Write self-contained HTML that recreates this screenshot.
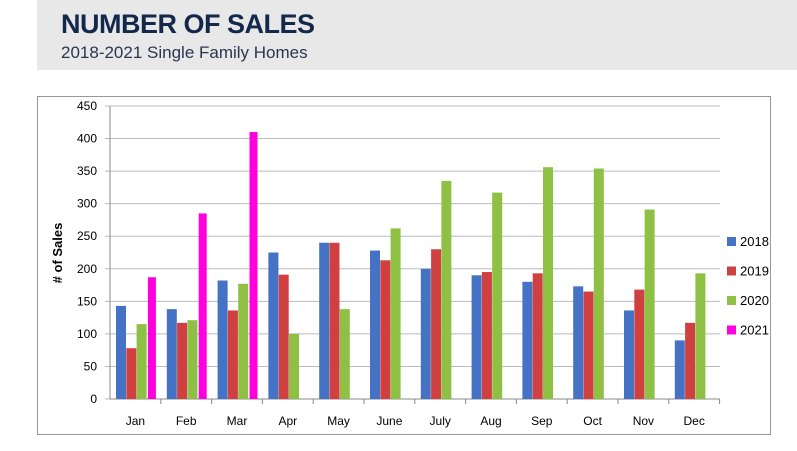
<!DOCTYPE html>
<html><head><style>
body{margin:0;background:#fff;width:797px;height:446px;overflow:hidden;font-family:"Liberation Sans",sans-serif}
</style></head><body>
<svg width="797" height="446" xmlns="http://www.w3.org/2000/svg" font-family="Liberation Sans, sans-serif">
<rect x="37" y="0" width="760" height="70" fill="#e8e8e8"/>
<text x="61" y="33" font-size="27" font-weight="bold" fill="#14284b" letter-spacing="-0.5">NUMBER OF SALES</text>
<text x="61" y="58" font-size="17" fill="#2a3550">2018-2021 Single Family Homes</text>
<rect x="37.5" y="96.5" width="733" height="338" fill="#fff" stroke="#999"/>
<g id="c"></g>
</svg>
<script>
const g=document.getElementById('c');let s='';
const y0=399,k=(399-106)/450,x0=110,gw=50.8;
for(let i=0;i<=9;i++){const y=y0-i*50*k;s+=`<line x1="105" x2="720" y1="${y}" y2="${y}" stroke="#bbb"/>`;s+=`<text x="97" y="${y+4}" font-size="12" text-anchor="end" fill="#000">${i*50}</text>`;}
s+=`<line x1="${x0}" x2="${x0}" y1="106" y2="${y0}" stroke="#888"/><line x1="${x0}" x2="720" y1="${y0}" y2="${y0}" stroke="#888"/>`;
const m=['Jan','Feb','Mar','Apr','May','June','July','Aug','Sep','Oct','Nov','Dec'];
const d=[[143,78,115,187],[138,117,121,285],[182,136,177,410],[225,191,100],[240,240,138],[228,213,262],[200,230,335],[190,195,317],[180,193,356],[173,165,354],[136,168,291],[90,117,193]];
const c=['#4472c4','#d04040','#8dc043','#ff00dd'];
d.forEach((v,i)=>{const gx=x0+i*gw;s+=`<line x1="${gx+gw}" x2="${gx+gw}" y1="${y0}" y2="${y0+5}" stroke="#888"/>`;
v.forEach((h,j)=>{const w=j==3?8:10;const bx=gx+6+j*10.3+(j==3?1:0);s+=`<rect x="${bx}" y="${y0-h*k}" width="${w}" height="${h*k}" fill="${c[j]}"/>`;});
s+=`<text x="${gx+gw/2}" y="425" font-size="12" text-anchor="middle">${m[i]}</text>`;});
['2018','2019','2020','2021'].forEach((t,j)=>{const y=237+j*29.5;s+=`<rect x="727" y="${y}" width="9" height="9" fill="${c[j]}"/><text x="740" y="${y+9}" font-size="13">${t}</text>`;});
s+=`<text transform="translate(62,253) rotate(-90)" font-size="13" font-weight="bold" text-anchor="middle"># of Sales</text>`;
g.innerHTML=s;
</script>
</body></html>
